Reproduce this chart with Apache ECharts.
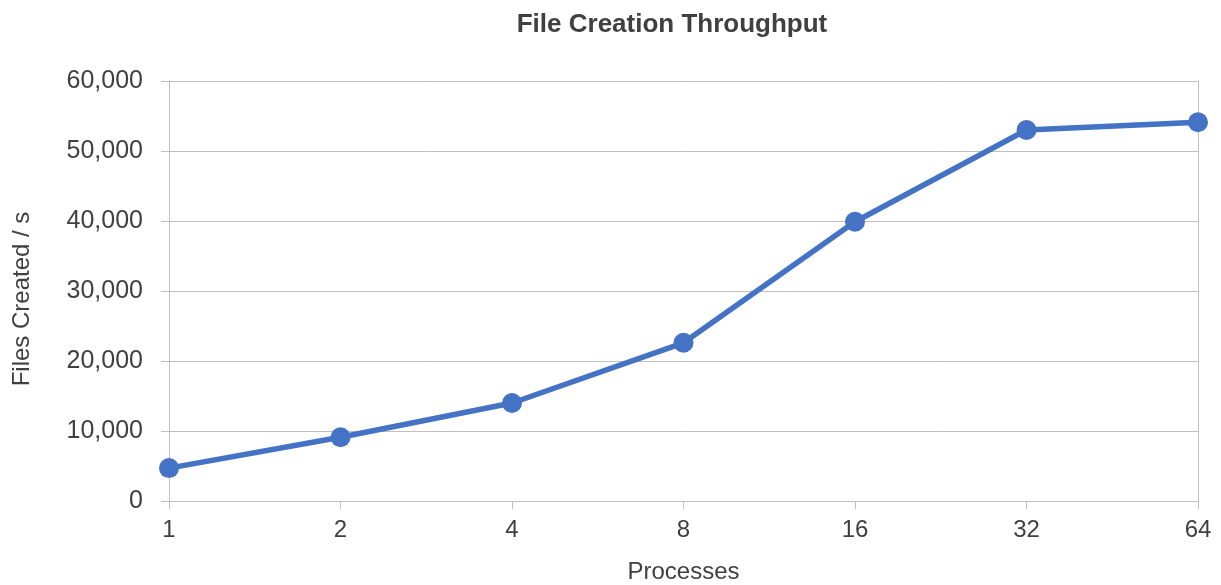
<!DOCTYPE html>
<html>
<head>
<meta charset="utf-8">
<script src="https://cdn.jsdelivr.net/npm/echarts@6/dist/echarts.min.js"></script>
<style>
  html, body { margin: 0; padding: 0; background: #ffffff; }
  #chart { width: 1221px; height: 585px; }
</style>
</head>
<body>
<div id="chart"></div>
<script>
// Number of processes (categories on the x axis)
const processes = ['1', '2', '4', '8', '16', '32', '64'];
// Files created per second for each process count
const filesPerSecond = [4700, 9100, 14000, 22600, 39900, 53000, 54100];

const textColor = '#404040';
const gridColor = '#bfbfbf';
const fontFamily = '"Liberation Sans", Arial, sans-serif';

const chart = echarts.init(document.getElementById('chart'), null, { renderer: 'canvas' });

chart.setOption({
  backgroundColor: '#ffffff',
  animation: false,
  title: {
    text: 'File Creation Throughput',
    left: 667,
    top: 7,
    textAlign: 'center',
    textStyle: { fontFamily, fontSize: 26, fontWeight: 'bold', color: textColor }
  },
  grid: { left: 169, right: 23, top: 81, bottom: 84, containLabel: false, outerBoundsMode: 'none' },
  xAxis: {
    type: 'category',
    data: processes,
    boundaryGap: false,
    name: 'Processes',
    nameLocation: 'middle',
    nameGap: 59,
    nameTextStyle: { fontFamily, fontSize: 24, color: textColor },
    axisLine: { show: true, lineStyle: { color: gridColor, width: 1 } },
    axisTick: { show: true, length: 8, alignWithLabel: true, lineStyle: { color: gridColor } },
    axisLabel: { fontFamily, fontSize: 24, color: textColor, margin: 17 },
    splitLine: { show: false }
  },
  yAxis: [{
    type: 'value',
    min: 0,
    max: 60000,
    interval: 10000,
    name: 'Files Created / s',
    nameLocation: 'middle',
    nameGap: 135,
    nameTextStyle: { fontFamily, fontSize: 24, color: textColor, padding: [0, 16, 0, 0] },
    axisLine: { show: true, lineStyle: { color: gridColor, width: 1 } },
    axisTick: { show: true, length: 8, lineStyle: { color: gridColor } },
    axisLabel: {
      fontFamily, fontSize: 25, color: textColor, margin: 26,
      formatter: v => v.toLocaleString('en-US')
    },
    splitLine: { show: true, lineStyle: { color: gridColor, width: 1 } }
  }, {
    // right-hand border of the plot area
    type: 'value',
    position: 'right',
    min: 0,
    max: 60000,
    interval: 10000,
    axisLine: { show: true, lineStyle: { color: gridColor, width: 1 } },
    axisTick: { show: false },
    axisLabel: { show: false },
    splitLine: { show: false }
  }],
  series: [{
    type: 'line',
    data: filesPerSecond,
    yAxisIndex: 0,
    symbol: 'circle',
    symbolSize: 20,
    lineStyle: { color: '#4472c4', width: 5.5 },
    itemStyle: { color: '#4472c4' },
    label: { show: false }
  }]
});
</script>
</body>
</html>
